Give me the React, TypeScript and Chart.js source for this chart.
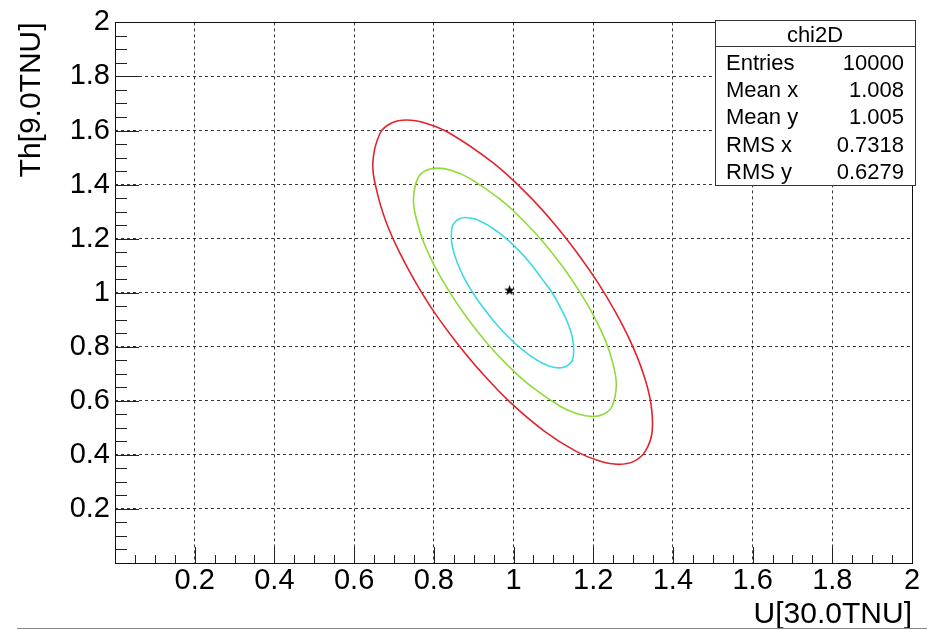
import React, { useEffect, useRef } from 'react';
import { Chart, registerables } from 'chart.js';

Chart.register(...registerables);

const FONT = '"Liberation Sans", Arial, Helvetica, sans-serif';

const AXIS_MIN = 0;
const AXIS_MAX = 2;
const MAJOR_STEP = 0.2;
const MINOR_STEP = 0.05;

const xTitle = 'U[30.0TNU]';
const yTitle = 'Th[9.0TNU]';

// contour points, going round each ellipse (clockwise on screen from the top)
const redContour: [number, number][] = [
  [0.732, 1.639], [0.780, 1.627], [0.840, 1.590], [0.949, 1.480], [1.031, 1.370],
  [1.100, 1.259], [1.159, 1.149], [1.211, 1.039], [1.256, 0.928], [1.294, 0.818],
  [1.324, 0.708], [1.344, 0.597], [1.348, 0.487], [1.331, 0.414], [1.303, 0.377],
  [1.264, 0.365], [1.216, 0.377], [1.156, 0.414], [1.078, 0.487], [0.990, 0.597],
  [0.918, 0.708], [0.856, 0.818], [0.801, 0.928], [0.754, 1.039], [0.714, 1.149],
  [0.681, 1.259], [0.658, 1.370], [0.647, 1.480], [0.665, 1.590], [0.693, 1.627],
];
const greenContour: [number, number][] = [
  [0.809, 1.461], [0.845, 1.452], [0.889, 1.424], [0.966, 1.346], [1.024, 1.268],
  [1.076, 1.185], [1.125, 1.093], [1.167, 1.001], [1.203, 0.910], [1.232, 0.818],
  [1.250, 0.735], [1.258, 0.657], [1.247, 0.579], [1.227, 0.551], [1.198, 0.542],
  [1.162, 0.551], [1.118, 0.579], [1.041, 0.657], [0.983, 0.735], [0.931, 0.818],
  [0.882, 0.910], [0.840, 1.001], [0.804, 1.093], [0.775, 1.185], [0.757, 1.268],
  [0.749, 1.346], [0.760, 1.424], [0.780, 1.452],
];
const cyanContour: [number, number][] = [
  [0.880, 1.278], [0.928, 1.256], [0.975, 1.208], [1.010, 1.161], [1.041, 1.111],
  [1.071, 1.052], [1.097, 1.000], [1.118, 0.944], [1.136, 0.889], [1.147, 0.839],
  [1.151, 0.792], [1.145, 0.744], [1.115, 0.722], [1.067, 0.744], [1.020, 0.792],
  [0.985, 0.839], [0.954, 0.889], [0.924, 0.944], [0.898, 1.000], [0.877, 1.052],
  [0.859, 1.111], [0.848, 1.161], [0.844, 1.208], [0.850, 1.256],
];
const bestFit: [number, number][] = [[0.99, 1.01]];

const statsTitle = 'chi2D';
const statsLabels = ['Entries', 'Mean x', 'Mean y', 'RMS x', 'RMS y'];
const statsValues = ['10000', '1.008', '1.005', '0.7318', '0.6279'];

const RED = '#e2232c';
const GREEN = '#8edc3a';
const CYAN = '#3ad9e4';
const GRID = 'rgba(20,20,20,0.85)';

const toPts = (arr: [number, number][]) => arr.map(([x, y]) => ({ x, y }));

function makeStar(size: number): HTMLCanvasElement {
  const c = document.createElement('canvas');
  c.width = size;
  c.height = size;
  const g = c.getContext('2d')!;
  g.beginPath();
  for (let i = 0; i < 10; i++) {
    const r = i % 2 === 0 ? size / 2 : (size / 2) * 0.42;
    const a = -Math.PI / 2 + (i * Math.PI) / 5;
    g.lineTo(size / 2 + r * Math.cos(a), size / 2 + 0.5 + r * Math.sin(a));
  }
  g.closePath();
  g.fillStyle = '#000';
  g.fill();
  return c;
}

const fmt = (v: number) => {
  if (Math.abs(v) < 1e-9) return '';
  return String(Math.round(v * 10) / 10);
};

const loopPlugin = {
  id: 'closeLoops',
  beforeDatasetsDraw(chart: any) {
    chart.data.datasets.forEach((ds: any, i: number) => {
      if (!ds.closed) return;
      const line = chart.getDatasetMeta(i).dataset;
      if (!line) return;
      line._loop = true;
      line._fullLoop = true;
      line._pointsUpdated = false;
      delete line._segments;
      delete line._path;
      line.updateControlPoints(chart.chartArea, 'x');
    });
  },
};

const decorPlugin = {
  id: 'rootDecor',
  afterDatasetsDraw(chart: any) {
    const { ctx, chartArea: a, scales } = chart;
    const xs = scales.x;
    const ys = scales.y;
    ctx.save();
    ctx.strokeStyle = '#222';
    ctx.lineWidth = 1;
    ctx.beginPath();
    const n = Math.round((AXIS_MAX - AXIS_MIN) / MINOR_STEP);
    for (let i = 1; i < n; i++) {
      const v = AXIS_MIN + i * MINOR_STEP;
      const q = v / MAJOR_STEP;
      const major = Math.abs(q - Math.round(q)) < 1e-6;
      const px = Math.round(xs.getPixelForValue(v)) + 0.5;
      ctx.moveTo(px, a.bottom);
      ctx.lineTo(px, a.bottom - (major ? 16 : 8));
      const py = Math.round(ys.getPixelForValue(v)) + 0.5;
      ctx.moveTo(a.left, py);
      ctx.lineTo(a.left + (major ? 24 : 12), py);
    }
    ctx.stroke();
    ctx.strokeStyle = '#111';
    ctx.strokeRect(
      Math.round(a.left) + 0.5,
      Math.round(a.top) + 0.5,
      Math.round(a.right - a.left),
      Math.round(a.bottom - a.top)
    );
    ctx.restore();
  },
  afterDraw(chart: any) {
    const { ctx, chartArea: a, width } = chart;
    ctx.save();
    // stats box
    const bw = 200;
    const bh = 165;
    const bx = Math.round(a.right) + 3 - bw;
    const by = Math.round(a.top) - 2;
    ctx.fillStyle = '#fff';
    ctx.fillRect(bx, by, bw, bh);
    ctx.strokeStyle = '#333';
    ctx.lineWidth = 1;
    ctx.strokeRect(bx + 0.5, by + 0.5, bw, bh);
    ctx.beginPath();
    ctx.moveTo(bx, by + 26.5);
    ctx.lineTo(bx + bw, by + 26.5);
    ctx.stroke();
    ctx.fillStyle = '#000';
    ctx.font = `22px ${FONT}`;
    ctx.textBaseline = 'alphabetic';
    ctx.textAlign = 'center';
    ctx.fillText(statsTitle, bx + bw / 2, by + 21.5);
    statsLabels.forEach((lab, k) => {
      const yy = by + 49.7 + k * 27.3;
      ctx.textAlign = 'left';
      ctx.fillText(lab, bx + 11, yy);
      ctx.textAlign = 'right';
      ctx.fillText(statsValues[k], bx + bw - 11, yy);
    });
    // page rule at the bottom
    ctx.strokeStyle = '#8a8a8a';
    ctx.beginPath();
    ctx.moveTo(17, chart.height - 1.5);
    ctx.lineTo(width - 7, chart.height - 1.5);
    ctx.stroke();
    ctx.restore();
  },
};

export default function App() {
  const ref = useRef<HTMLCanvasElement | null>(null);

  useEffect(() => {
    if (!ref.current) return;
    const star = makeStar(11);
    const gridColor = (c: any) => {
      const v = c.tick ? c.tick.value : 0.5;
      return v <= AXIS_MIN + 1e-6 || v >= AXIS_MAX - 1e-6 ? 'rgba(0,0,0,0)' : GRID;
    };
    const lineDs = (data: [number, number][], color: string) => ({
      data: toPts(data),
      borderColor: color,
      backgroundColor: color,
      borderWidth: 1.6,
      pointRadius: 0,
      pointHoverRadius: 0,
      tension: 0.4,
      spanGaps: true,
      fill: false,
      closed: true,
    });
    const chart = new Chart(ref.current, {
      type: 'line',
      data: {
        datasets: [
          lineDs(redContour, RED),
          lineDs(greenContour, GREEN),
          lineDs(cyanContour, CYAN),
          {
            data: toPts(bestFit),
            showLine: false,
            pointStyle: star,
            pointRadius: 5,
            borderColor: '#000',
            backgroundColor: '#000',
          } as any,
        ] as any,
      },
      options: {
        responsive: false,
        devicePixelRatio: 1,
        animation: false,
        events: [],
        layout: { padding: { top: 19, right: 22, left: 0, bottom: 0 } },
        plugins: {
          legend: { display: false },
          tooltip: { enabled: false },
        },
        scales: {
          x: {
            type: 'linear',
            min: AXIS_MIN,
            max: AXIS_MAX,
            afterFit: (s: any) => {
              s.height = 67;
            },
            ticks: {
              stepSize: MAJOR_STEP,
              autoSkip: false,
              maxRotation: 0,
              minRotation: 0,
              padding: 1,
              color: '#000',
              font: { family: FONT, size: 29 },
              callback: (v: any) => fmt(Number(v)),
            },
            grid: { color: gridColor, lineWidth: 1, drawTicks: false },
            border: { display: false, dash: [3, 3] },
            title: {
              display: true,
              text: xTitle,
              align: 'end',
              color: '#000',
              font: { family: FONT, size: 30, lineHeight: 1 },
              padding: { top: 0, bottom: 0 },
            },
          },
          y: {
            type: 'linear',
            min: AXIS_MIN,
            max: AXIS_MAX,
            afterFit: (s: any) => {
              s.width = 115;
            },
            ticks: {
              stepSize: MAJOR_STEP,
              autoSkip: false,
              padding: 5,
              color: '#000',
              font: { family: FONT, size: 29 },
              callback: (v: any) => fmt(Number(v)),
            },
            grid: { color: gridColor, lineWidth: 1, drawTicks: false },
            border: { display: false, dash: [3, 3] },
            title: {
              display: true,
              text: yTitle,
              align: 'end',
              color: '#000',
              font: { family: FONT, size: 30, lineHeight: 1 },
              padding: { top: 17, bottom: 0 },
            },
          },
        },
      } as any,
      plugins: [loopPlugin, decorPlugin],
    });
    return () => chart.destroy();
  }, []);

  return (
    <div style={{ position: 'fixed', left: 0, top: 0, width: 934, height: 630, background: '#fff' }}>
      <canvas ref={ref} width={934} height={630} style={{ width: 934, height: 630, display: 'block' }} />
    </div>
  );
}
